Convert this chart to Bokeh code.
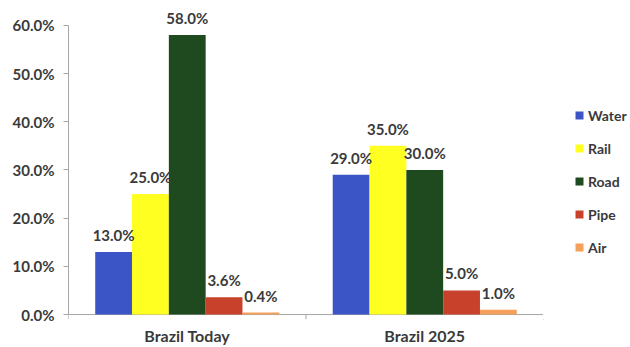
from bokeh.plotting import figure
from bokeh.layouts import row
from bokeh.models import (FactorRange, Range1d, ColumnDataSource, LabelSet, Legend, LegendItem,
                          FixedTicker, PrintfTickFormatter, CategoricalAxis)
from bokeh.core.properties import value
from bokeh.transform import dodge
from bokeh.embed import file_html
from bokeh.resources import INLINE

categories = ["Brazil Today", "Brazil 2025"]
modes = ["Water", "Rail", "Road", "Pipe", "Air"]
water = [13.0, 29.0]
rail = [25.0, 35.0]
road = [58.0, 30.0]
pipe = [3.6, 5.0]
air = [0.4, 1.0]
y_ticks = [0, 10, 20, 30, 40, 50, 60]
colors = ["#3b55c6", "#ffff22", "#1f4a1f", "#c8422b", "#f5a05a"]

FONT = "Lato"
TXT = "#3a3a3a"
AXC = "#a6a6a6"
TICK = 1.03  # tick length below the x axis, in y data units (~5 px)

p = figure(width=543, height=347,
           x_range=FactorRange(factors=categories, range_padding=0),
           y_range=Range1d(-TICK, 63.5),
           output_backend="svg", toolbar_location=None,
           x_axis_location=None,
           min_border_left=68, min_border_right=0, min_border_top=8, min_border_bottom=26)
p.outline_line_color = None
p.grid.visible = False
p.background_fill_color = "white"

ya = p.yaxis[0]
ya.ticker = FixedTicker(ticks=y_ticks)
ya.formatter = PrintfTickFormatter(format="%.1f%%")
ya.bounds = (0, 60)
ya.axis_line_color = AXC
ya.major_tick_line_color = AXC
ya.major_tick_in = 0
ya.major_tick_out = 5
ya.minor_tick_line_color = None
ya.major_label_text_font = FONT
ya.major_label_text_font_style = "bold"
ya.major_label_text_font_size = "15px"
ya.major_label_text_color = TXT
ya.major_label_standoff = 9

cax = CategoricalAxis(axis_line_color=None, major_tick_line_color=None,
                      minor_tick_line_color=None, major_tick_out=0, major_tick_in=0,
                      major_label_text_font=FONT, major_label_text_font_style="bold",
                      major_label_text_font_size="16px", major_label_text_color=TXT,
                      major_label_standoff=6)
p.add_layout(cax, "below")

# x axis line and category-boundary ticks
bsrc = ColumnDataSource(dict(cat=categories))
p.segment(x0=dodge("cat", -0.5, range=p.x_range), y0=0,
          x1=dodge("cat", 0.5, range=p.x_range), y1=0,
          source=bsrc, line_color=AXC, line_width=1)
p.segment(x0=dodge("cat", -0.5, range=p.x_range), y0=0,
          x1=dodge("cat", -0.5, range=p.x_range), y1=-TICK,
          source=bsrc, line_color=AXC, line_width=1)
esrc = ColumnDataSource(dict(cat=categories[-1:]))
p.segment(x0=dodge("cat", 0.5, range=p.x_range), y0=0,
          x1=dodge("cat", 0.5, range=p.x_range), y1=-TICK,
          source=esrc, line_color=AXC, line_width=1)

series = [water, rail, road, pipe, air]
width = 0.155
for i, (name, vals, col) in enumerate(zip(modes, series, colors)):
    off = (i - 2) * width
    src = ColumnDataSource(dict(cat=categories, v=vals, lab=[f"{v:.1f}%" for v in vals]))
    p.vbar(x=dodge("cat", off, range=p.x_range), top="v", bottom=0, width=width,
           source=src, fill_color=col, line_color=None)
    lbl = LabelSet(x=dodge("cat", off, range=p.x_range), y="v", text="lab", source=src,
                   text_align="center", text_baseline="middle", y_offset=17,
                   text_font=value(FONT), text_font_style="bold", text_font_size="15px",
                   text_color=TXT)
    p.add_layout(lbl)

# legend panel (legend swatches only; the dummy point lies outside the view)
q = figure(width=87, height=347, output_backend="svg", toolbar_location=None,
           x_axis_location=None, y_axis_location=None,
           x_range=Range1d(0, 1), y_range=Range1d(0, 1),
           min_border=0, min_border_left=0, min_border_right=0,
           min_border_top=0, min_border_bottom=0)
q.outline_line_color = None
q.grid.visible = False
items = []
for name, col in zip(modes, colors):
    r = q.vbar(x=[-10], top=[-10], bottom=[-11], width=0.1, fill_color=col, line_color=None)
    items.append(LegendItem(label=name, renderers=[r]))
legend = Legend(items=items, location=(31, 62), orientation="vertical",
                border_line_color=None, background_fill_alpha=0,
                label_text_font=FONT, label_text_font_style="bold",
                label_text_font_size="14px", label_text_color=TXT,
                glyph_width=10, glyph_height=10, label_height=20, spacing=13,
                padding=0, margin=0, label_standoff=4)
q.add_layout(legend)

layout = row(p, q, spacing=0)
open("out.html", "w").write(file_html(layout, INLINE))
